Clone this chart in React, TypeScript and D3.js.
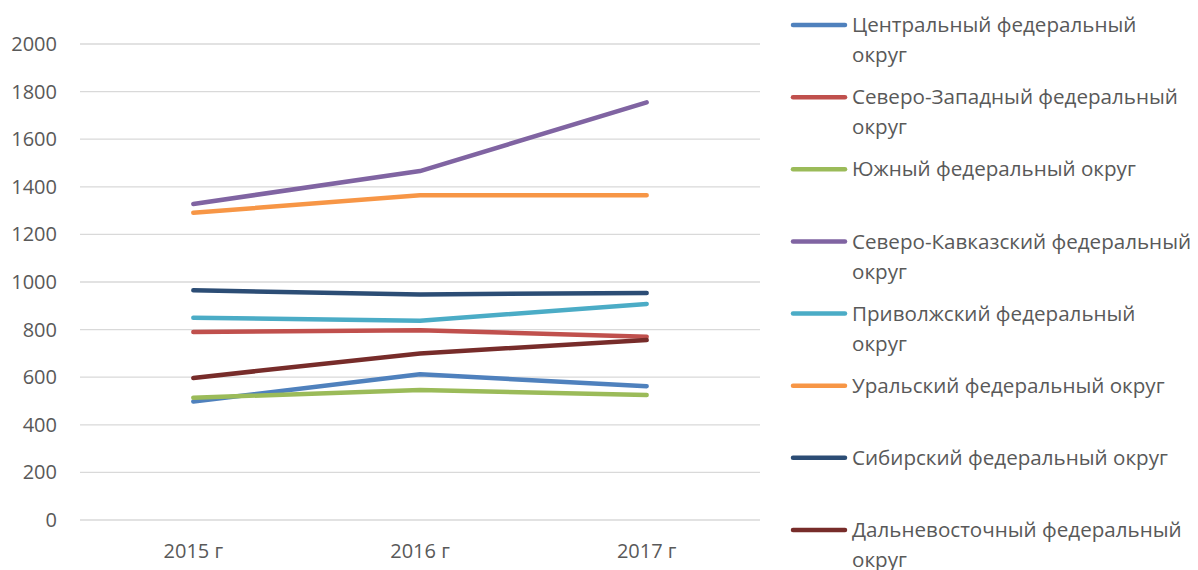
import React from "react";
import * as d3 from "d3";

const width = 1198;
const height = 570;

const years = ["2015 г", "2016 г", "2017 г"];
const yTicks = [0, 200, 400, 600, 800, 1000, 1200, 1400, 1600, 1800, 2000];

const districts = [
  "Центральный федеральный округ",
  "Северо-Западный федеральный округ",
  "Южный федеральный округ",
  "Северо-Кавказский федеральный округ",
  "Приволжский федеральный округ",
  "Уральский федеральный округ",
  "Сибирский федеральный округ",
  "Дальневосточный федеральный округ",
];

const central = [498, 612, 562];
const northWest = [790, 797, 770];
const south = [514, 546, 525];
const northCaucasus = [1328, 1466, 1755];
const volga = [850, 837, 908];
const ural = [1291, 1364, 1364];
const siberia = [965, 948, 954];
const farEast = [597, 700, 756];

const colors = [
  "#4F81BD",
  "#C0504D",
  "#9BBB59",
  "#8064A2",
  "#4BACC6",
  "#F79646",
  "#2C4D75",
  "#772C2A",
];

const series = [central, northWest, south, northCaucasus, volga, ural, siberia, farEast];

const font = "'Open Sans', sans-serif";
const textColor = "#595959";

// wrap long legend names: last word goes on the next line
const wrap = (name: string) => {
  if (name.length <= 28) return [name];
  const i = name.lastIndexOf(" ");
  return [name.slice(0, i), name.slice(i + 1)];
};

const App = () => {
  const x = d3.scalePoint().domain(years).range([80, 760]).padding(0.5);
  const y = d3.scaleLinear().domain([0, 2000]).range([520, 44]);

  const line = d3
    .line<number>()
    .x((d, i) => x(years[i]) as number)
    .y((d) => y(d));

  const legendY = d3.scaleLinear().domain([0, 7]).range([25, 530]);

  return (
    <svg
      width={width}
      height={height}
      style={{ position: "absolute", left: 0, top: 0, background: "#fff" }}
      fontFamily={font}
    >
      {/* grid */}
      <g>
        {yTicks.map((t) => (
          <g key={t}>
            <line x1={80} x2={760} y1={y(t)} y2={y(t)} stroke="#D9D9D9" strokeWidth={1.3} />
            <text
              x={57}
              y={y(t)}
              dy="0.35em"
              textAnchor="end"
              fontSize={20}
              fill={textColor}
            >
              {t}
            </text>
          </g>
        ))}
      </g>

      {/* x labels */}
      <g>
        {years.map((yr) => (
          <text
            key={yr}
            x={x(yr)}
            y={558}
            textAnchor="middle"
            fontSize={20}
            fill={textColor}
          >
            {yr}
          </text>
        ))}
      </g>

      {/* lines */}
      <g>
        {series.map((s, i) => (
          <path
            key={districts[i]}
            d={line(s) || ""}
            fill="none"
            stroke={colors[i]}
            strokeWidth={4.5}
            strokeLinecap="round"
            strokeLinejoin="round"
          />
        ))}
      </g>

      {/* legend */}
      <g>
        {districts.map((name, i) => {
          const ly = legendY(i);
          const lines = wrap(name);
          return (
            <g key={name}>
              <line
                x1={793}
                x2={845}
                y1={ly}
                y2={ly}
                stroke={colors[i]}
                strokeWidth={4.5}
                strokeLinecap="round"
              />
              {lines.map((l, j) => (
                <text
                  key={j}
                  x={852}
                  y={ly + j * 30}
                  dy="0.35em"
                  fontSize={20.6}
                  fill={textColor}
                >
                  {l}
                </text>
              ))}
            </g>
          );
        })}
      </g>
    </svg>
  );
};

export default App;
